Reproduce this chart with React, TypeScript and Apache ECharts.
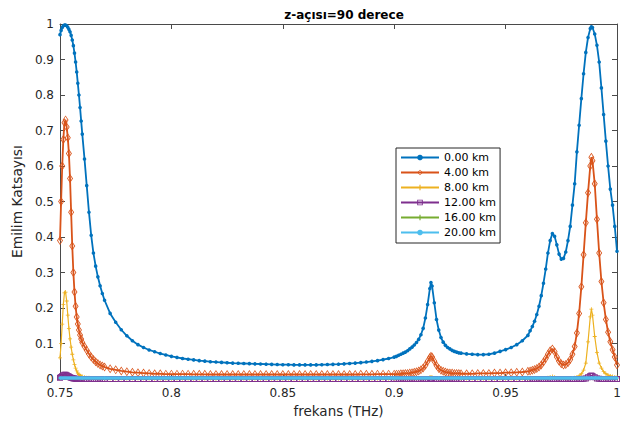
import React, { useEffect, useRef } from "react";
import * as echarts from "echarts";

// frequency grid (THz) shared by the 0, 4, 8 and 12 km curves
const freq = [
  0.750, 0.7505, 0.751, 0.7515, 0.752, 0.7525, 0.753, 0.7535, 0.754, 0.7545, 0.755, 0.7555, 0.756, 0.7565, 0.757, 0.7575, 0.758, 0.7585, 0.759, 0.7595, 0.760,
  0.761, 0.762, 0.763, 0.764, 0.765, 0.766, 0.767, 0.768, 0.769, 0.770,
  0.7725, 0.775, 0.7775, 0.780, 0.7825, 0.785, 0.7875, 0.790, 0.7925, 0.795, 0.7975, 0.800,
  0.8025, 0.805, 0.8075, 0.810, 0.8125, 0.815, 0.8175, 0.820, 0.8225, 0.825,
  0.8275, 0.830, 0.8325, 0.835, 0.8375, 0.840, 0.8425, 0.845, 0.8475, 0.850,
  0.8525, 0.855, 0.8575, 0.860, 0.8625, 0.865, 0.8675, 0.870, 0.8725, 0.875,
  0.8775, 0.880, 0.8825, 0.885, 0.8875, 0.890, 0.8925, 0.895, 0.8975, 0.900,
  0.901, 0.902, 0.903, 0.904, 0.905, 0.906, 0.907, 0.908, 0.909, 0.910, 0.911, 0.912, 0.913, 0.914, 0.915, 0.916,
  0.9165,
  0.917, 0.918, 0.919, 0.920, 0.921, 0.922, 0.923, 0.924, 0.925, 0.926, 0.927, 0.928, 0.929, 0.930,
  0.9325, 0.935, 0.9375, 0.940, 0.9425, 0.945, 0.9475, 0.950, 0.9525, 0.955, 0.9575, 0.960,
  0.961, 0.962, 0.963, 0.964, 0.965, 0.966, 0.967, 0.968, 0.969, 0.970,
  0.971, 0.972, 0.973, 0.974, 0.975, 0.976, 0.977, 0.978, 0.979, 0.980,
  0.981, 0.982, 0.983, 0.984, 0.985, 0.986, 0.987, 0.988,
  0.9885,
  0.989, 0.990, 0.991, 0.992, 0.993, 0.994, 0.995, 0.996, 0.997, 0.998, 0.999, 1.000,
];

const km0 = [
  0.970, 0.982, 0.990, 0.995, 0.997, 0.997, 0.995, 0.991, 0.985, 0.978, 0.968, 0.955, 0.939, 0.918, 0.893, 0.865, 0.833, 0.800, 0.765, 0.727, 0.690,
  0.620, 0.545, 0.470, 0.405, 0.355, 0.318, 0.288, 0.263, 0.241, 0.222,
  0.185, 0.160, 0.139, 0.122, 0.108, 0.097, 0.089, 0.082, 0.077, 0.072, 0.068, 0.064,
  0.061, 0.058, 0.056, 0.054, 0.052, 0.0505, 0.049, 0.048, 0.047, 0.046,
  0.045, 0.0445, 0.044, 0.0435, 0.043, 0.0425, 0.042, 0.0415, 0.041, 0.0405,
  0.0405, 0.040, 0.040, 0.040, 0.040, 0.040, 0.0405, 0.041, 0.0415, 0.042,
  0.043, 0.044, 0.045, 0.0465, 0.048, 0.050, 0.052, 0.055, 0.058, 0.062,
  0.064, 0.067, 0.070, 0.073, 0.076, 0.080, 0.085, 0.090, 0.096, 0.103, 0.112, 0.125, 0.143, 0.172, 0.210, 0.255,
  0.272,
  0.262, 0.215, 0.168, 0.138, 0.117, 0.104, 0.095, 0.089, 0.085, 0.081, 0.078, 0.076, 0.074, 0.073,
  0.071, 0.070, 0.069, 0.069, 0.070, 0.073, 0.078, 0.083, 0.089, 0.097, 0.108, 0.123,
  0.136, 0.148, 0.163, 0.182, 0.205, 0.235, 0.270, 0.310, 0.355, 0.390,
  0.410, 0.402, 0.378, 0.352, 0.338, 0.340, 0.358, 0.390, 0.430, 0.490,
  0.550, 0.640, 0.715, 0.790, 0.860, 0.920, 0.962, 0.987,
  0.992,
  0.990, 0.972, 0.940, 0.893, 0.820, 0.745, 0.670, 0.600, 0.535, 0.490, 0.430, 0.360,
];

const km4 = [
  0.390, 0.500, 0.600, 0.675, 0.722, 0.730, 0.710, 0.680, 0.635, 0.565, 0.470, 0.375, 0.300, 0.245, 0.205, 0.175, 0.155, 0.138, 0.124, 0.113, 0.103,
  0.092, 0.081, 0.071, 0.062, 0.055, 0.049, 0.044, 0.040, 0.037, 0.034,
  0.029, 0.026, 0.023, 0.021, 0.019, 0.018, 0.017, 0.016, 0.015, 0.015, 0.014, 0.014,
  0.014, 0.014, 0.014, 0.0135, 0.0135, 0.0135, 0.013, 0.013, 0.013, 0.013,
  0.013, 0.013, 0.013, 0.013, 0.013, 0.013, 0.013, 0.013, 0.013, 0.013,
  0.013, 0.013, 0.013, 0.013, 0.013, 0.013, 0.013, 0.013, 0.013, 0.013,
  0.013, 0.013, 0.013, 0.0135, 0.0135, 0.0135, 0.014, 0.014, 0.014, 0.014,
  0.014, 0.014, 0.015, 0.015, 0.016, 0.016, 0.017, 0.018, 0.019, 0.021, 0.023, 0.026, 0.031, 0.039, 0.050, 0.061,
  0.064,
  0.062, 0.050, 0.038, 0.030, 0.025, 0.022, 0.020, 0.018, 0.017, 0.017, 0.016, 0.016, 0.016, 0.015,
  0.015, 0.015, 0.016, 0.016, 0.016, 0.017, 0.017, 0.018, 0.018, 0.019, 0.020, 0.022,
  0.023, 0.025, 0.027, 0.030, 0.034, 0.040, 0.048, 0.058, 0.070, 0.080,
  0.085, 0.077, 0.062, 0.050, 0.043, 0.040, 0.041, 0.046, 0.055, 0.070,
  0.092, 0.130, 0.185, 0.260, 0.350, 0.440, 0.525, 0.600,
  0.625,
  0.615, 0.550, 0.450, 0.355, 0.275, 0.215, 0.168, 0.132, 0.105, 0.083, 0.062, 0.040,
];

const km8 = [
  0.060, 0.100, 0.155, 0.210, 0.243, 0.245, 0.220, 0.180, 0.143, 0.113, 0.090, 0.070, 0.054, 0.041, 0.031, 0.023, 0.017, 0.013, 0.010, 0.008, 0.007,
  0.005, 0.004, 0.004, 0.003, 0.003, 0.003, 0.002, 0.002, 0.002, 0.002,
  0.002, 0.002, 0.002, 0.002, 0.0015, 0.0015, 0.0015, 0.0015, 0.001, 0.001, 0.001, 0.001,
  0.001, 0.001, 0.001, 0.001, 0.001, 0.001, 0.001, 0.001, 0.001, 0.001,
  0.001, 0.001, 0.001, 0.001, 0.001, 0.001, 0.001, 0.001, 0.001, 0.001,
  0.001, 0.001, 0.001, 0.001, 0.001, 0.001, 0.001, 0.001, 0.001, 0.001,
  0.001, 0.001, 0.001, 0.001, 0.001, 0.001, 0.001, 0.001, 0.001, 0.001,
  0.001, 0.001, 0.001, 0.001, 0.001, 0.001, 0.001, 0.001, 0.001, 0.001, 0.001, 0.001, 0.001, 0.002, 0.003, 0.005,
  0.006,
  0.005, 0.003, 0.002, 0.001, 0.001, 0.001, 0.001, 0.001, 0.001, 0.001, 0.001, 0.001, 0.001, 0.001,
  0.001, 0.001, 0.001, 0.001, 0.001, 0.001, 0.001, 0.001, 0.001, 0.001, 0.001, 0.001,
  0.001, 0.001, 0.001, 0.001, 0.001, 0.001, 0.0015, 0.002, 0.004, 0.006,
  0.007, 0.005, 0.003, 0.002, 0.002, 0.002, 0.002, 0.002, 0.002, 0.003,
  0.004, 0.006, 0.009, 0.015, 0.025, 0.045, 0.105, 0.175,
  0.197,
  0.180, 0.120, 0.075, 0.045, 0.031, 0.021, 0.015, 0.011, 0.009, 0.007, 0.006, 0.005,
];

const km12 = [
  0.004, 0.006, 0.009, 0.011, 0.012, 0.012, 0.011, 0.009, 0.007, 0.005, 0.004, 0.003, 0.002, 0.0015, 0.001, 0.0005, 0.0005, 0.0003, 0.0003, 0.0003, 0.0003,
  0.0003, 0.0003, 0.0003, 0.0003, 0.0003, 0.0003, 0.0003, 0.0003, 0.0003, 0.0003,
  0.0003, 0.0003, 0.0003, 0.0003, 0.0003, 0.0003, 0.0003, 0.0003, 0.0003, 0.0003, 0.0003, 0.0003,
  0.0003, 0.0003, 0.0003, 0.0003, 0.0003, 0.0003, 0.0003, 0.0003, 0.0003, 0.0003,
  0.0003, 0.0003, 0.0003, 0.0003, 0.0003, 0.0003, 0.0003, 0.0003, 0.0003, 0.0003,
  0.0003, 0.0003, 0.0003, 0.0003, 0.0003, 0.0003, 0.0003, 0.0003, 0.0003, 0.0003,
  0.0003, 0.0003, 0.0003, 0.0003, 0.0003, 0.0003, 0.0003, 0.0003, 0.0003, 0.0003,
  0.0003, 0.0003, 0.0003, 0.0003, 0.0003, 0.0003, 0.0003, 0.0003, 0.0003, 0.0003, 0.0003, 0.0003, 0.0003, 0.0003, 0.0003, 0.0005,
  0.0006,
  0.0005, 0.0003, 0.0003, 0.0003, 0.0003, 0.0003, 0.0003, 0.0003, 0.0003, 0.0003, 0.0003, 0.0003, 0.0003, 0.0003,
  0.0003, 0.0003, 0.0003, 0.0003, 0.0003, 0.0003, 0.0003, 0.0003, 0.0003, 0.0003, 0.0003, 0.0003,
  0.0003, 0.0003, 0.0003, 0.0003, 0.0003, 0.0003, 0.0003, 0.0003, 0.0003, 0.0003,
  0.0003, 0.0003, 0.0003, 0.0003, 0.0003, 0.0003, 0.0003, 0.0003, 0.0003, 0.0003,
  0.0003, 0.0003, 0.0003, 0.0005, 0.001, 0.002, 0.005, 0.009,
  0.010,
  0.009, 0.005, 0.002, 0.001, 0.0005, 0.0003, 0.0003, 0.0003, 0.0003, 0.0003, 0.0003, 0.0003,
];

// coarser grid for the two flat curves (16 km, 20 km)
const freqFlat = [
  0.75, 0.76, 0.77, 0.78, 0.79, 0.80, 0.81, 0.82, 0.83, 0.84, 0.85, 0.86, 0.87,
  0.88, 0.89, 0.90, 0.91, 0.92, 0.93, 0.94, 0.95, 0.96, 0.97, 0.98, 0.99, 1.00,
];
const km16 = [
  0.001, 0.001, 0.001, 0.001, 0.001, 0.001, 0.001, 0.001, 0.001, 0.001, 0.001, 0.001, 0.001,
  0.001, 0.001, 0.001, 0.001, 0.001, 0.001, 0.001, 0.001, 0.001, 0.001, 0.001, 0.001, 0.001,
];
const km20 = [
  0.003, 0.003, 0.003, 0.003, 0.003, 0.003, 0.003, 0.003, 0.003, 0.003, 0.003, 0.003, 0.003,
  0.003, 0.003, 0.003, 0.003, 0.003, 0.003, 0.003, 0.003, 0.003, 0.003, 0.003, 0.003, 0.003,
];

const seriesNames = ["0.00 km", "4.00 km", "8.00 km", "12.00 km", "16.00 km", "20.00 km"];
const seriesColors = ["#0072BD", "#D95319", "#EDB120", "#7E2F8E", "#77AC30", "#4DBEEE"];

const titleText = "z-açısı=90 derece";
const xName = "frekans (THz)";
const yName = "Emilim Katsayısı";

const FONT = "DejaVu Sans";
const AXIS_COLOR = "#4a4a4a";
const TEXT_COLOR = "#262626";

const DIAMOND = "path://M5,0L10,8L5,16L0,8Z M5,2.2L1.7,8L5,13.8L8.3,8Z";
const SQUARE = "path://M0,0H10V10H0Z M1.6,1.6V8.4H8.4V1.6Z";
const PLUS = "path://M4,0H6V4H10V6H6V10H4V6H0V4H4Z";

function pairs(xs: number[], ys: number[]) {
  const n = Math.min(xs.length, ys.length);
  const out: number[][] = [];
  for (let i = 0; i < n; i++) out.push([xs[i], ys[i]]);
  return out;
}

export default function App() {
  const ref = useRef<HTMLDivElement>(null);

  useEffect(() => {
    if (!ref.current) return;
    const chart = echarts.init(ref.current, null, { renderer: "svg" });

    const fmt = (v: number) => String(parseFloat(v.toFixed(2)));
    const axisCommon = {
      axisLine: { show: true, onZero: false, lineStyle: { color: AXIS_COLOR, width: 1 } },
      axisTick: { show: true, inside: true, length: 5, lineStyle: { color: AXIS_COLOR } },
      splitLine: { show: false },
    };

    const base = (i: number) => ({
      name: seriesNames[i],
      type: "line",
      silent: true,
      emphasis: { disabled: true },
      color: seriesColors[i],
      itemStyle: { color: seriesColors[i], borderWidth: 0 },
    });

    chart.setOption({
      animation: false,
      backgroundColor: "#ffffff",
      title: {
        text: titleText,
        left: 339,
        top: 4,
        textAlign: "center",
        textStyle: { fontFamily: FONT, fontSize: 12, fontWeight: "bold", color: "#000" },
      },
      grid: { left: 60, right: 13, top: 24, bottom: 43, containLabel: false },
      legend: {
        orient: "vertical",
        left: 396,
        top: 148,
        padding: [4, 4, 5, 4],
        itemWidth: 38,
        itemHeight: 7,
        itemGap: 4,
        selectedMode: false,
        borderColor: "#262626",
        borderWidth: 1,
        backgroundColor: "#ffffff",
        textStyle: { fontFamily: FONT, fontSize: 11, color: "#000" },
        data: seriesNames,
      },
      xAxis: [
        {
          type: "value",
          min: 0.75,
          max: 1,
          interval: 0.05,
          name: xName,
          nameLocation: "middle",
          nameGap: 23,
          nameTextStyle: { fontFamily: FONT, fontSize: 13.5, color: TEXT_COLOR },
          axisLabel: { fontFamily: FONT, fontSize: 12, color: TEXT_COLOR, margin: 8, formatter: fmt },
          ...axisCommon,
        },
        {
          type: "value",
          position: "top",
          min: 0.75,
          max: 1,
          interval: 0.05,
          axisLabel: { show: false },
          ...axisCommon,
        },
      ],
      yAxis: [
        {
          type: "value",
          min: 0,
          max: 1,
          interval: 0.1,
          name: yName,
          nameLocation: "middle",
          nameRotate: 90,
          nameGap: 24,
          nameTextStyle: { fontFamily: FONT, fontSize: 13.8, color: TEXT_COLOR },
          axisLabel: { fontFamily: FONT, fontSize: 12, color: TEXT_COLOR, margin: 6, formatter: fmt },
          ...axisCommon,
        },
        {
          type: "value",
          position: "right",
          min: 0,
          max: 1,
          interval: 0.1,
          axisLabel: { show: false },
          ...axisCommon,
        },
      ],
      series: [
        {
          ...base(0),
          data: pairs(freq, km0),
          symbol: "circle",
          symbolSize: 3.6,
          lineStyle: { color: seriesColors[0], width: 1.8 },
          z: 2,
        },
        {
          ...base(1),
          data: pairs(freq, km4),
          symbol: DIAMOND,
          symbolSize: [6, 9],
          lineStyle: { color: seriesColors[1], width: 1.8 },
          z: 3,
        },
        {
          ...base(2),
          data: pairs(freq, km8),
          symbol: PLUS,
          symbolSize: 4,
          lineStyle: { color: seriesColors[2], width: 1.2 },
          z: 4,
        },
        {
          ...base(3),
          data: pairs(freq, km12),
          symbol: SQUARE,
          symbolSize: 6,
          lineStyle: { color: seriesColors[3], width: 1.2 },
          z: 5,
        },
        {
          ...base(4),
          data: pairs(freqFlat, km16),
          symbol: PLUS,
          symbolSize: 3,
          lineStyle: { color: seriesColors[4], width: 1.2 },
          z: 6,
        },
        {
          ...base(5),
          data: pairs(freqFlat, km20),
          symbol: "circle",
          symbolSize: 3,
          lineStyle: { color: seriesColors[5], width: 3.5 },
          z: 7,
        },
      ],
    });

    return () => chart.dispose();
  }, []);

  return (
    <div
      ref={ref}
      style={{ position: "fixed", left: 0, top: 0, width: 630, height: 423, background: "#fff" }}
    />
  );
}
